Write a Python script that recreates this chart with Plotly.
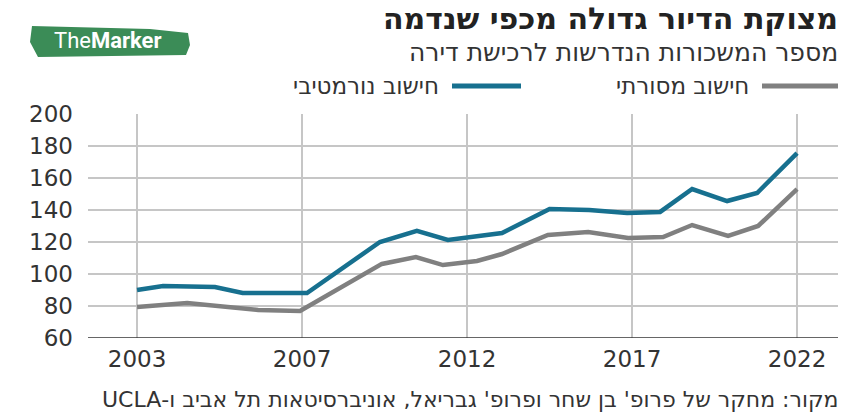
import plotly.graph_objects as go

# ---- data ----
tick_pos = [0, 5, 10, 15, 20]
tick_labels = ["2003", "2007", "2012", "2017", "2022"]

normative_x = [0, 0.79, 2.36, 3.2, 5.15, 7.36, 8.48, 9.42, 11.06, 12.5, 13.7, 14.85, 15.85, 16.82, 17.88, 18.79, 20]
normative_y = [90, 92.5, 91.9, 88.1, 88.1, 120, 126.9, 121.3, 125.6, 140.6, 140, 138.1, 138.8, 153.1, 145.6, 150.6, 175.6]

traditional_x = [0, 1.52, 3.67, 4.94, 7.42, 8.45, 9.27, 10.3, 11.06, 12.45, 13.67, 14.88, 15.94, 16.82, 17.91, 18.82, 20]
traditional_y = [79.4, 81.9, 77.5, 76.9, 106.3, 110.6, 105.6, 108.1, 112.5, 124.4, 126.3, 122.5, 123.1, 130.6, 123.8, 130, 153.1]

name_traditional = "חישוב מסורתי"
name_normative = "חישוב נורמטיבי"
title_text = "מצוקת הדיור גדולה מכפי שנדמה"
subtitle_text = "מספר המשכורות הנדרשות לרכישת דירה"
source_text = "מקור: מחקר של פרופ' בן שחר ופרופ' גבריאל, אוניברסיטאות תל אביב ו-UCLA"

BLUE = "#17708f"
GRAY = "#808080"
W, H = 842, 415
L, R, T, B = 88, 4, 114, 77

def px(xp):
    return (xp - L) / (W - L - R)

def py(yp):
    return (H - B - yp) / (H - T - B)

WIDE = "DejaVu Sans, sans-serif"

fig = go.Figure()
fig.add_trace(go.Scatter(x=traditional_x, y=traditional_y, mode="lines",
                         line=dict(color=GRAY, width=4.5), name=name_traditional,
                         showlegend=False))
fig.add_trace(go.Scatter(x=normative_x, y=normative_y, mode="lines",
                         line=dict(color=BLUE, width=4.5), name=name_normative,
                         showlegend=False))

fig.update_layout(
    width=W, height=H,
    margin=dict(l=L, r=R, t=T, b=B),
    paper_bgcolor="white", plot_bgcolor="white",
    font=dict(family=WIDE, color="#333333"),
    xaxis=dict(range=[-1.485, 21.24], tickvals=tick_pos, ticktext=tick_labels,
               showgrid=True, gridcolor="#c6c6c6", gridwidth=1.5,
               zeroline=False, showline=False, ticks="",
               tickfont=dict(family=WIDE, size=23, color="#333333"),
               ticklabelstandoff=5),
    yaxis=dict(range=[60, 200], dtick=20, showgrid=True, gridcolor="#c6c6c6",
               gridwidth=1.5, zeroline=False, showline=False, ticks="",
               tickfont=dict(family=WIDE, size=23, color="#333333"),
               ticklabelstandoff=14),
)

# bottom axis line
fig.add_shape(type="line", xref="paper", yref="y", x0=0, x1=1, y0=60, y1=60,
              line=dict(color="#333333", width=1.5))

# legend (right-to-left layout)
fig.add_shape(type="line", xref="paper", yref="paper", x0=px(762), x1=px(838),
              y0=py(86), y1=py(86), line=dict(color=GRAY, width=5))
fig.add_annotation(xref="paper", yref="paper", x=px(751), y=py(86), xanchor="right",
                   yanchor="middle", text=name_traditional, showarrow=False,
                   font=dict(family=WIDE, size=23, color="#333333"))
fig.add_shape(type="line", xref="paper", yref="paper", x0=px(452), x1=px(521),
              y0=py(86), y1=py(86), line=dict(color=BLUE, width=5))
fig.add_annotation(xref="paper", yref="paper", x=px(441), y=py(86), xanchor="right",
                   yanchor="middle", text=name_normative, showarrow=False,
                   font=dict(family=WIDE, size=23, color="#333333"))

# titles
fig.add_annotation(xref="paper", yref="paper", x=px(840), y=py(-1), xanchor="right",
                   yanchor="top", text="<b>" + title_text + "</b>", showarrow=False,
                   font=dict(family=WIDE, size=30, color="#222222"))
fig.add_annotation(xref="paper", yref="paper", x=px(840), y=py(52), xanchor="right",
                   yanchor="middle", text=subtitle_text, showarrow=False,
                   font=dict(family=WIDE, size=25, color="#333333"))

# logo
fig.add_shape(type="path", xref="paper", yref="paper",
              path=("M %f %f L %f %f L %f %f L %f %f L %f %f L %f %f L %f %f Z" % (
                  px(32), py(26), px(150), py(29), px(188), py(33), px(190), py(45),
                  px(186), py(55), px(38), py(57), px(30), py(42))),
              fillcolor="#3b8c57", line=dict(width=0))
fig.add_annotation(xref="paper", yref="paper", x=px(108), y=py(41), xanchor="center",
                   yanchor="middle", text="The<b>Marker</b>", showarrow=False,
                   font=dict(family="Roboto, Liberation Sans", size=22, color="white"))

# source
fig.add_annotation(xref="paper", yref="paper", x=px(840), y=py(399), xanchor="right",
                   yanchor="middle", text="\u202b" + source_text + "\u202c", showarrow=False,
                   font=dict(family=WIDE, size=22, color="#333333"))

fig.write_html("out.html")
